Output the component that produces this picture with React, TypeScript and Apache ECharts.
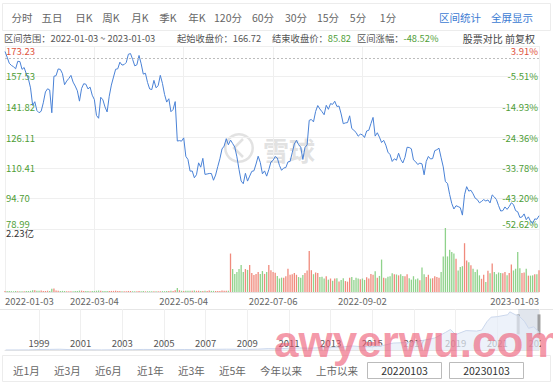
import React, { useEffect, useRef } from 'react';
import * as echarts from 'echarts';

const FONT = '"Noto Sans CJK SC", "Noto Sans", sans-serif';
const RED = '#e0533d';
const GREEN = '#4f9e37';
const LINE = '#4a82d6';

// trading days (categories)
const monthDays: [string, number[]][] = [
  ['2022-01', [3, 4, 5, 6, 7, 10, 11, 12, 13, 14, 18, 19, 20, 21, 24, 25, 26, 27, 28, 31]],
  ['2022-02', [1, 2, 3, 4, 7, 8, 9, 10, 11, 14, 15, 16, 17, 18, 22, 23, 24, 25, 28]],
  ['2022-03', [1, 2, 3, 4, 7, 8, 9, 10, 11, 14, 15, 16, 17, 18, 21, 22, 23, 24, 25, 28, 29, 30, 31]],
  ['2022-04', [1, 4, 5, 6, 7, 8, 11, 12, 13, 14, 18, 19, 20, 21, 22, 25, 26, 27, 28, 29]],
  ['2022-05', [2, 3, 4, 5, 6, 9, 10, 11, 12, 13, 16, 17, 18, 19, 20, 23, 24, 25, 26, 27, 31]],
  ['2022-06', [1, 2, 3, 6, 7, 8, 9, 10, 13, 14, 15, 16, 17, 21, 22, 23, 24, 27, 28, 29, 30]],
  ['2022-07', [1, 5, 6, 7, 8, 11, 12, 13, 14, 15, 18, 19, 20, 21, 22, 25, 26, 27, 28, 29]],
  ['2022-08', [1, 2, 3, 4, 5, 8, 9, 10, 11, 12, 15, 16, 17, 18, 19, 22, 23, 24, 25, 26, 29, 30, 31]],
  ['2022-09', [1, 2, 6, 7, 8, 9, 12, 13, 14, 15, 16, 19, 20, 21, 22, 23, 26, 27, 28, 29, 30]],
  ['2022-10', [3, 4, 5, 6, 7, 10, 11, 12, 13, 14, 17, 18, 19, 20, 21, 24, 25, 26, 27, 28, 31]],
  ['2022-11', [1, 2, 3, 4, 7, 8, 9, 10, 11, 14, 15, 16, 17, 18, 21, 22, 23, 25, 28, 29, 30]],
  ['2022-12', [1, 2, 5, 6, 7, 8, 9, 12, 13, 14, 15, 16, 19, 20, 21, 22, 23, 27, 28, 29, 30]],
  ['2023-01', [3]],
];
const dates: string[] = [];
monthDays.forEach(([m, ds]) => ds.forEach((d) => dates.push(`${m}-${String(d).padStart(2, '0')}`)));

// closing prices per month
const closeJan = [170.4, 167.52, 164.36, 163.25, 162.55, 161.49, 165.36, 165.21, 161.21, 162.14, 158.92, 156.3, 151.67, 142.64, 144.54, 139.99, 138.87, 139.64, 143.98, 149.57];
const closeFeb = [151.19, 150.61, 138.85, 157.64, 157.94, 161.41, 161.19, 159.0, 153.29, 155.17, 156.51, 158.1, 154.65, 152.6, 150.2, 144.83, 151.36, 153.79, 153.56];
const closeMar = [151.14, 152.05, 147.9, 145.64, 137.47, 136.01, 146.82, 145.52, 141.85, 139.28, 147.37, 153.1, 157.24, 161.25, 161.49, 164.89, 163.41, 163.65, 164.77, 168.99, 169.32, 166.3, 163.0];
const closeApr = [163.56, 168.35, 164.06, 158.76, 159.19, 154.46, 151.12, 150.79, 155.54, 151.71, 152.79, 158.12, 154.0, 148.3, 144.35, 146.07, 139.39, 140.5, 144.6, 124.28];
const closeMay = [124.5, 124.25, 125.93, 116.41, 114.77, 108.79, 108.86, 105.37, 106.93, 113.06, 110.81, 115.37, 107.11, 107.32, 107.59, 107.56, 104.1, 106.78, 111.08, 115.15, 120.21];
const closeJun = [121.68, 125.51, 122.35, 124.79, 123.0, 121.18, 116.15, 109.65, 103.67, 102.31, 107.67, 103.66, 106.22, 108.68, 108.95, 112.44, 116.46, 113.22, 107.4, 108.92, 106.21];
const closeJul = [109.56, 113.5, 114.33, 116.33, 115.54, 111.75, 109.22, 110.4, 110.63, 113.55, 113.76, 118.21, 122.77, 124.63, 122.42, 121.14, 114.81, 120.97, 122.28, 134.95];
const closeAug = [135.39, 134.16, 139.52, 142.57, 140.8, 139.41, 137.83, 142.69, 140.64, 143.55, 143.18, 144.78, 142.1, 142.3, 138.23, 133.22, 133.62, 133.8, 137.28, 130.75, 129.79, 128.73, 126.77];
const closeSep = [127.82, 127.51, 126.11, 129.48, 129.82, 133.27, 136.45, 126.82, 128.55, 126.28, 123.53, 124.66, 122.19, 118.54, 117.31, 113.78, 115.15, 114.41, 118.01, 114.8, 113.0];
const closeOct = [115.88, 121.09, 120.95, 120.3, 114.56, 113.67, 112.21, 112.9, 112.53, 106.9, 113.79, 116.36, 115.07, 115.25, 119.32, 119.82, 120.6, 115.66, 110.96, 103.41, 102.44];
const closeNov = [96.79, 92.12, 89.3, 90.98, 90.53, 89.98, 86.14, 96.63, 100.79, 98.49, 98.94, 97.12, 94.85, 94.14, 92.46, 93.2, 94.13, 93.41, 93.95, 92.42, 96.54];
const closeDec = [95.5, 94.13, 91.01, 88.25, 88.46, 90.35, 89.09, 90.55, 92.49, 91.58, 88.45, 87.86, 84.92, 85.19, 86.77, 83.79, 85.25, 83.04, 81.82, 84.18, 84.0];
const closeJan23 = [85.82];
const closes = [...closeJan, ...closeFeb, ...closeMar, ...closeApr, ...closeMay, ...closeJun, ...closeJul, ...closeAug, ...closeSep, ...closeOct, ...closeNov, ...closeDec, ...closeJan23];

// volume, millions of shares
const volJan = [3.2, 3.6, 3.2, 2.9, 2.6, 3.5, 3.0, 2.8, 3.0, 2.6, 3.6, 3.5, 4.0, 6.1, 5.9, 4.7, 4.6, 5.0, 3.9, 3.4];
const volFeb = [4.4, 3.4, 11.2, 12.6, 5.4, 4.0, 3.6, 3.9, 3.5, 2.9, 2.7, 2.4, 2.8, 3.2, 3.4, 4.8, 4.7, 3.9, 3.6];
const volMar = [3.6, 2.9, 3.2, 3.2, 4.4, 5.1, 4.6, 3.1, 3.5, 3.3, 3.9, 3.7, 3.8, 4.5, 3.4, 3.6, 3.0, 2.6, 2.7, 3.6, 3.4, 2.7, 2.9];
const volApr = [2.7, 3.3, 2.8, 3.1, 2.4, 2.8, 2.7, 2.3, 2.3, 2.6, 2.7, 2.9, 3.2, 2.9, 3.1, 3.2, 4.1, 3.2, 5.7, 13.6];
const volMay = [6.1, 4.1, 3.4, 4.6, 4.6, 4.6, 4.4, 4.8, 4.1, 4.4, 3.3, 3.7, 4.0, 3.9, 5.2, 3.9, 4.0, 3.4, 3.8, 3.6, 5.1];
const volJun = [4.1, 4.2, 4.4, 134, 80, 63, 70, 80, 94, 70, 80, 77, 94, 66, 59, 63, 70, 63, 73, 63, 70];
const volJul = [94, 76, 70, 67, 56, 47, 50, 50, 55, 81, 60, 62, 66, 60, 52, 50, 59, 66, 75, 143];
const volAug = [76, 62, 68, 66, 52, 53, 47, 55, 43, 47, 39, 47, 48, 37, 42, 48, 38, 36, 50, 52, 42, 50, 47];
const volSep = [44, 47, 42, 51, 47, 63, 60, 72, 50, 56, 113, 50, 48, 53, 55, 65, 62, 61, 58, 62, 56];
const volOct = [55, 62, 48, 43, 55, 44, 47, 41, 85, 62, 52, 60, 47, 48, 55, 52, 50, 70, 124, 223, 124];
const volNov = [147, 139, 134, 116, 75, 87, 90, 170, 110, 104, 93, 81, 70, 78, 58, 46, 60, 35, 74, 65, 99];
const volDec = [70, 62, 68, 66, 65, 70, 58, 66, 96, 75, 81, 139, 83, 66, 68, 81, 57, 57, 58, 62, 62];
const volJan23 = [76];
const volumes = [...volJan, ...volFeb, ...volMar, ...volApr, ...volMay, ...volJun, ...volJul, ...volAug, ...volSep, ...volOct, ...volNov, ...volDec, ...volJan23];

const startPrice = 166.72;
const endPrice = 85.82;
const changePct = '-48.52%';
const priceTicks = [78.99, 94.7, 110.41, 126.11, 141.82, 157.53, 173.23];
const pctLabels = ['-52.62%', '-43.20%', '-33.78%', '-24.36%', '-14.93%', '-5.51%', '3.91%'];
const volMax = 223;
const volMaxLabel = '2.23亿';
const xLabelDates = ['2022-01-03', '2022-03-04', '2022-05-04', '2022-07-06', '2022-09-02', '2023-01-03'];

// long history shadow for the range strip (year, price)
const histYears = [1997.4, 1998.0, 1998.5, 1999.0, 1999.5, 2000.0, 2000.5, 2001.0, 2001.5, 2002.0, 2002.5, 2003.0, 2003.5, 2004.0, 2004.5, 2005.0, 2005.5, 2006.0, 2006.5, 2007.0, 2007.5, 2008.0, 2008.5, 2009.0, 2009.5, 2010.0, 2010.5, 2011.0, 2011.5, 2012.0, 2012.5, 2013.0, 2013.5, 2014.0, 2014.5, 2015.0, 2015.5, 2016.0, 2016.5, 2017.0, 2017.5, 2018.0, 2018.5, 2018.75, 2019.0, 2019.5, 2020.0, 2020.25, 2020.5, 2020.7, 2021.0, 2021.5, 2021.6, 2021.9, 2022.0, 2022.3, 2022.5, 2022.75, 2023.0];
const histPrice = [0.1, 0.25, 0.6, 2.5, 3.0, 3.8, 1.8, 0.7, 0.8, 0.5, 0.75, 1.0, 1.8, 2.7, 2.5, 2.2, 1.7, 2.4, 1.8, 1.9, 3.4, 4.0, 3.7, 2.6, 4.1, 6.7, 5.5, 9, 10, 8.7, 11.4, 12.7, 13.9, 19.9, 16.2, 15.5, 21.7, 33.8, 35.8, 37.5, 48.4, 58.5, 85, 100, 75, 94.7, 92.4, 97, 138, 160, 162.8, 172, 186, 170, 170, 140, 106, 113, 85.8];
const yearTicks = [1999, 2001, 2003, 2005, 2007, 2009, 2011, 2013, 2015, 2017, 2019, 2021, 2023];
const selectedRange = [2022.0, 2023.0];

const periodTabs = ['分时', '五日', '日K', '周K', '月K', '季K', '年K', '120分', '60分', '30分', '15分', '5分', '1分'];
const tabCenters = [22, 52, 84, 111, 140, 168, 197, 228, 263, 296, 328, 358, 388];
const quickRanges = ['近1月', '近3月', '近6月', '近1年', '近3年', '近5年', '今年以来', '上市以来'];
const quickX = [13, 54, 95, 137, 178, 219, 260, 316];

export default function App() {
  const ref = useRef<HTMLDivElement>(null);
  useEffect(() => {
    const chart = echarts.init(ref.current!, null, { renderer: 'svg' });
    const showX = (i: number, v: string) => xLabelDates.includes(dates[i]) || xLabelDates.includes(v);
    const gridLine = { color: '#efefef', width: 1 };
    const volData = volumes.map((v, i) => {
      const up = i === 0 ? closes[0] >= startPrice : closes[i] >= closes[i - 1];
      return { value: v, itemStyle: { color: up ? '#f08a7c' : '#8fd28b' } };
    });
    const option: any = {
      animation: false,
      backgroundColor: '#fff',
      textStyle: { fontFamily: FONT },
      grid: [
        { left: 5, right: 14, top: 46, height: 183 },
        { left: 5, right: 14, top: 228, height: 64 },
        { left: 5, right: 14, top: 309, height: 41 },
      ],
      xAxis: [
        {
          type: 'category', gridIndex: 0, data: dates, boundaryGap: false,
          axisLine: { show: false }, axisTick: { show: false }, axisLabel: { show: false },
          splitLine: { show: true, interval: showX, lineStyle: gridLine },
        },
        {
          type: 'category', gridIndex: 1, data: dates, boundaryGap: false,
          axisLine: { show: true, lineStyle: { color: '#e4e4e4' } }, axisTick: { show: false },
          axisLabel: {
            interval: showX, color: '#666', fontSize: 9.5, margin: 4, fontFamily: FONT,
            alignMinLabel: 'left', alignMaxLabel: 'right', hideOverlap: false,
          },
          splitLine: { show: true, interval: showX, lineStyle: gridLine },
        },
        {
          type: 'value', gridIndex: 2, min: 1997.37, max: 2023.0,
          axisLine: { show: true, lineStyle: { color: '#e4e4e4' } },
          axisTick: { show: false, customValues: yearTicks },
          axisLabel: { inside: true, customValues: yearTicks, formatter: (v: number) => String(v), color: '#555', fontSize: 9.5, margin: 2, fontFamily: FONT },
          splitLine: { show: true, lineStyle: gridLine },
        },
      ],
      yAxis: [
        {
          type: 'value', gridIndex: 0, min: priceTicks[0], max: priceTicks[priceTicks.length - 1], position: 'left',
          axisLine: { show: false }, axisTick: { show: false, customValues: priceTicks },
          axisLabel: {
            inside: true, customValues: priceTicks, margin: 1, fontSize: 9.5, fontFamily: FONT,
            formatter: (v: number) => v.toFixed(2),
            color: (v: any) => (Number(v) > startPrice ? RED : GREEN),
            verticalAlignMinLabel: 'bottom', verticalAlignMaxLabel: 'top',
          },
          splitLine: { show: true, lineStyle: gridLine },
        },
        {
          type: 'value', gridIndex: 0, min: priceTicks[0], max: priceTicks[priceTicks.length - 1], position: 'right',
          axisLine: { show: false }, axisTick: { show: false, customValues: priceTicks },
          axisLabel: {
            inside: true, customValues: priceTicks, margin: 1, fontSize: 9.5, fontFamily: FONT,
            formatter: (v: number) => pctLabels[priceTicks.indexOf(v)] ?? '',
            color: (v: any) => (Number(v) > startPrice ? RED : GREEN),
            verticalAlignMinLabel: 'bottom', verticalAlignMaxLabel: 'top',
          },
          splitLine: { show: false },
        },
        {
          type: 'value', gridIndex: 1, min: 0, max: volMax,
          axisLine: { show: false }, axisTick: { show: false, customValues: [volMax] },
          axisLabel: {
            inside: true, customValues: [volMax], margin: 1, fontSize: 9.5, color: '#333', fontFamily: FONT,
            formatter: () => volMaxLabel, verticalAlign: 'top',
          },
          splitLine: { show: false },
        },
        { type: 'value', gridIndex: 2, min: 0, max: 200, show: false },
      ],
      series: [
        {
          type: 'line', xAxisIndex: 0, yAxisIndex: 0, data: closes, showSymbol: false,
          lineStyle: { color: LINE, width: 1 }, itemStyle: { color: LINE },
          markLine: {
            silent: true, symbol: 'none', label: { show: false },
            lineStyle: { color: '#bdbdbd', type: [2, 2], width: 1 },
            data: [{ yAxis: startPrice }],
          },
        },
        {
          type: 'bar', xAxisIndex: 1, yAxisIndex: 2, data: volData, barWidth: 1.3,
        },
        {
          type: 'line', xAxisIndex: 2, yAxisIndex: 3, data: histYears.map((y, i) => [y, histPrice[i]]),
          showSymbol: false, lineStyle: { color: '#cbd7ec', width: 1 }, areaStyle: { color: '#e6edf8' },
          markArea: {
            silent: true, itemStyle: { color: 'rgba(120,140,175,0.22)' },
            data: [[{ xAxis: selectedRange[0] }, { xAxis: selectedRange[1] }]],
          },
        },
        {
          type: 'scatter', xAxisIndex: 2, yAxisIndex: 3, symbol: 'rect', symbolSize: [3, 20],
          itemStyle: { color: '#8c8c8c' }, data: selectedRange.map((x) => [x, 125]),
        },
      ],
      graphic: [
        // toolbar
        { type: 'rect', shape: { x: 2.5, y: 3.5, width: 548, height: 27 }, style: { fill: 'none', stroke: '#ececec' } },
        ...periodTabs.map((t, i) => ({
          type: 'text', x: tabCenters[i], y: 17,
          style: { text: t, fill: '#666', fontSize: 10.5, fontFamily: FONT, align: 'center', verticalAlign: 'middle' },
        })),
        { type: 'text', x: 460, y: 17, style: { text: '区间统计', fill: '#3c7bd3', fontSize: 10.5, fontFamily: FONT, align: 'center', verticalAlign: 'middle' } },
        { type: 'text', x: 512, y: 17, style: { text: '全屏显示', fill: '#3c7bd3', fontSize: 10.5, fontFamily: FONT, align: 'center', verticalAlign: 'middle' } },
        // info row
        { type: 'text', x: 4, y: 37.5, style: { text: `区间范围：${dates[0]} ~ ${dates[dates.length - 1]}`, fill: '#555', fontSize: 9.3, fontFamily: FONT, verticalAlign: 'middle' } },
        { type: 'text', x: 177, y: 37.5, style: { text: `起始收盘价：${startPrice.toFixed(2)}`, fill: '#555', fontSize: 9.3, fontFamily: FONT, verticalAlign: 'middle' } },
        {
          type: 'text', x: 272, y: 37.5,
          style: {
            text: `结束收盘价：{g|${endPrice.toFixed(2)}}`, fill: '#555', fontSize: 9.3, fontFamily: FONT, verticalAlign: 'middle',
            rich: { g: { fill: GREEN, fontSize: 9.3, fontFamily: FONT } },
          },
        },
        {
          type: 'text', x: 357, y: 37.5,
          style: {
            text: `区间涨幅：{g|${changePct}}`, fill: '#555', fontSize: 9.3, fontFamily: FONT, verticalAlign: 'middle',
            rich: { g: { fill: GREEN, fontSize: 9.3, fontFamily: FONT } },
          },
        },
        { type: 'text', x: 535, y: 38, style: { text: '股票对比 前复权', fill: '#444', fontSize: 10, fontFamily: FONT, align: 'right', verticalAlign: 'middle' } },
        // center watermark
        { type: 'ring', shape: { cx: 239, cy: 148, r: 15, r0: 12.5 }, style: { fill: 'rgba(190,190,190,0.45)' }, z: 0 },
        { type: 'polyline', shape: { points: [[243, 139], [234, 148], [243, 157]] }, style: { stroke: 'rgba(190,190,190,0.45)', lineWidth: 2.5, fill: 'none' }, z: 0 },
        { type: 'text', x: 263, y: 149, style: { text: '雪球', fill: 'rgba(190,190,190,0.45)', fontSize: 26, fontWeight: 'bold', fontFamily: FONT, verticalAlign: 'middle' }, z: 0 },
        // strip top border and right cover
        { type: 'line', shape: { x1: 0, y1: 309.5, x2: 553, y2: 309.5 }, style: { stroke: '#e6e6e6' } },
        { type: 'rect', shape: { x: 541, y: 310, width: 12, height: 44 }, style: { fill: '#fff' }, z: 50 },
        // bottom row
        { type: 'rect', shape: { x: 2.5, y: 355.5, width: 548, height: 26 }, style: { fill: 'none', stroke: '#ececec' } },
        ...quickRanges.map((t, i) => ({
          type: 'text', x: quickX[i], y: 370,
          style: { text: t, fill: '#666', fontSize: 10.5, fontFamily: FONT, verticalAlign: 'middle' },
        })),
        { type: 'rect', shape: { x: 367.5, y: 362.5, width: 74, height: 16 }, style: { fill: '#fff', stroke: '#bbb' } },
        { type: 'text', x: 404.5, y: 370.5, style: { text: dates[0].replace(/-/g, ''), fill: '#333', fontSize: 10.5, fontFamily: FONT, align: 'center', verticalAlign: 'middle' } },
        { type: 'rect', shape: { x: 449.5, y: 362.5, width: 74, height: 16 }, style: { fill: '#fff', stroke: '#bbb' } },
        { type: 'text', x: 486.5, y: 370.5, style: { text: dates[dates.length - 1].replace(/-/g, ''), fill: '#333', fontSize: 10.5, fontFamily: FONT, align: 'center', verticalAlign: 'middle' } },
        // overlay watermark
        { type: 'text', x: 274, y: 341, z: 100, style: { text: 'awyerwu.com', fill: 'rgba(238,86,112,0.6)', fontSize: 44, fontWeight: 'bold', fontFamily: '"Liberation Sans", Arial, sans-serif', verticalAlign: 'middle' } },
      ],
    };
    chart.setOption(option);
    return () => chart.dispose();
  }, []);
  return <div ref={ref} style={{ position: 'fixed', left: 0, top: 0, width: 553, height: 382, background: '#fff' }} />;
}
